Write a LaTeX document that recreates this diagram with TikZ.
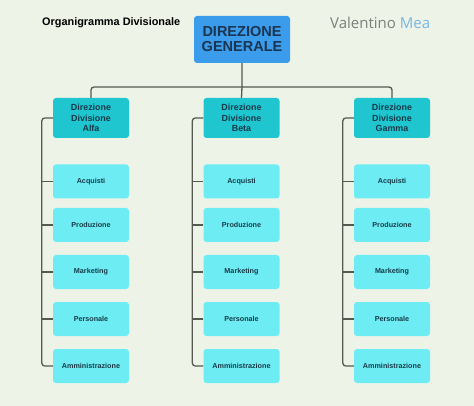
\documentclass[tikz,border=0pt]{standalone}
\usepackage{fontspec}
\setmainfont{Liberation Sans}
\newfontfamily\opensans{Open Sans}
\definecolor{bg}{HTML}{EEF3E8}
\definecolor{topc}{HTML}{3A9CEB}
\definecolor{divc}{HTML}{1FC6D0}
\definecolor{childc}{HTML}{6DEDF3}
\definecolor{navy}{HTML}{1B3550}
\definecolor{dtext}{HTML}{173A48}
\definecolor{linec}{HTML}{55594F}
\definecolor{vgray}{HTML}{7A807A}
\definecolor{vblue}{HTML}{78B6E2}
\begin{document}
\begin{tikzpicture}[x=1pt,y=-1pt,
  topbox/.style={fill=topc,rounded corners=3pt,minimum width=96pt,minimum height=47pt,align=center,font=\fontsize{14.5}{15}\selectfont\bfseries,text=navy,inner sep=0pt},
  divbox/.style={fill=divc,rounded corners=3pt,minimum width=76pt,minimum height=40pt,align=center,font=\fontsize{8.9}{10.7}\selectfont\bfseries,text=dtext,inner sep=0pt},
  childbox/.style={fill=childc,rounded corners=3pt,minimum width=76pt,minimum height=34pt,align=center,font=\fontsize{7.2}{8}\selectfont\bfseries,text=dtext,inner sep=0pt},
  conn/.style={draw=linec,line width=1.3pt,rounded corners=3pt}]
\fill[bg] (0,0) rectangle (474,406);
\useasboundingbox (0,0) rectangle (474,406);
\node[font=\fontsize{10.9}{12}\selectfont\bfseries,anchor=west,inner sep=0pt] (title) at (42,23) {Organigramma Divisionale};
\node[font=\opensans\fontsize{15}{17}\selectfont,anchor=west,inner sep=0pt] (brand) at (330,23) {\textcolor{vgray}{Valentino} \textcolor{vblue}{Mea}};
\node[topbox] (top) at (242,39.5) {DIREZIONE\\GENERALE};
\coordinate (hub) at (242,87);
\foreach \n/\x/\lbl in {alfa/91/Alfa,beta/241.5/Beta,gamma/392/Gamma}{
  \node[divbox] (\n) at (\x,118) {Direzione\\Divisione\\\lbl};
  \node[childbox] (\n1) at (\x,181.5) {Acquisti};
  \node[childbox] (\n2) at (\x,225) {Produzione};
  \node[childbox] (\n3) at (\x,272) {Marketing};
  \node[childbox] (\n4) at (\x,319) {Personale};
  \node[childbox] (\n5) at (\x,366) {Amministrazione};
  \coordinate (\n t) at ([xshift=-11pt]\n.west);
  \draw[conn] (\n.west) -- (\n t) -- (\n t |- \n5.west) -- (\n5.west);
  \foreach \i in {1,2,3,4}{
    \draw[conn] (\n\i.west) -- (\n t |- \n\i.west);
  }
}
\draw[conn] (top.south) -- (hub) -- (beta.north);
\draw[conn] (alfa.north) -- (alfa.north |- hub) -- (gamma.north |- hub) -- (gamma.north);
\end{tikzpicture}
\end{document}
